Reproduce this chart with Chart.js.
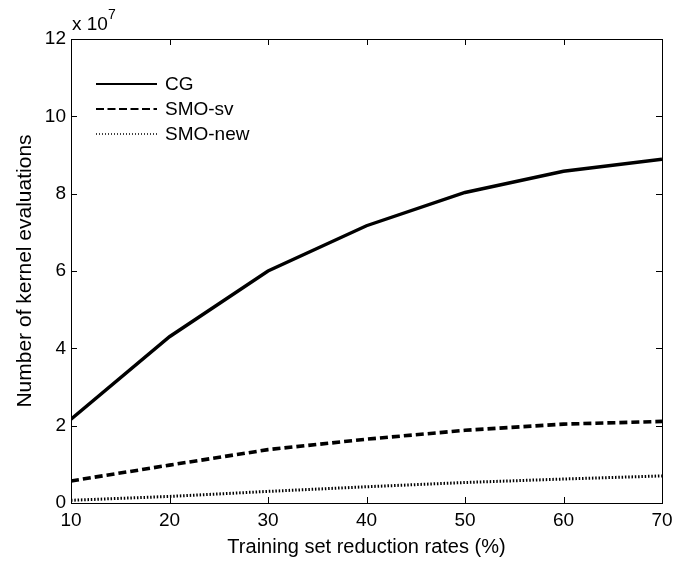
<!DOCTYPE html>
<html>
<head>
<meta charset="utf-8">
<script src="https://cdn.jsdelivr.net/npm/chart.js@4/dist/chart.umd.min.js"></script>
<style>
  html, body { margin: 0; padding: 0; background: #fff; }
  #wrap { width: 695px; height: 565px; }
</style>
</head>
<body>
<div id="wrap"><canvas id="myChart" width="695" height="565"></canvas></div>
<script>
// reduction rates (%) and kernel evaluations in units of 1e7
var rates = [10, 20, 30, 40, 50, 60, 70];
var cg = [2.17, 4.3, 6.0, 7.17, 8.03, 8.58, 8.89];
var smoSv = [0.57, 0.98, 1.38, 1.65, 1.88, 2.04, 2.11];
var smoNew = [0.07, 0.17, 0.3, 0.42, 0.53, 0.62, 0.7];
var yTicks = [0, 2, 4, 6, 8, 10, 12];

var FONT = '"Liberation Sans", Arial, Helvetica, sans-serif';

function pts(vals) {
    return rates.map(function (r, i) { return { x: r, y: vals[i] }; });
}

var legendItems = [
    { label: 'CG', width: 2.2, dash: [], y: 84 },
    { label: 'SMO-sv', width: 2.2, dash: [8, 3.5], y: 109 },
    { label: 'SMO-new', width: 1.4, dash: [1, 2], y: 134 }
];

var boxPlugin = {
    id: 'matlabBox',
    afterDraw: function (chart) {
        var ctx = chart.ctx, a = chart.chartArea;
        var xs = chart.scales.x, ys = chart.scales.y;
        ctx.save();
        ctx.strokeStyle = '#000';
        ctx.lineWidth = 1;
        ctx.strokeRect(a.left + 0.5, a.top + 0.5, a.right - a.left, a.bottom - a.top);
        var t = 6;
        ctx.beginPath();
        rates.forEach(function (r) {
            var px = Math.round(xs.getPixelForValue(r)) + 0.5;
            ctx.moveTo(px, a.bottom); ctx.lineTo(px, a.bottom - t);
            ctx.moveTo(px, a.top); ctx.lineTo(px, a.top + t);
        });
        yTicks.forEach(function (v) {
            var py = Math.round(ys.getPixelForValue(v)) + 0.5;
            ctx.moveTo(a.left, py); ctx.lineTo(a.left + t, py);
            ctx.moveTo(a.right, py); ctx.lineTo(a.right - t, py);
        });
        ctx.stroke();

        // exponent label
        ctx.fillStyle = '#000';
        ctx.textBaseline = 'alphabetic';
        ctx.font = '19px ' + FONT;
        ctx.fillText('x 10', a.left + 1, a.top - 9);
        var w = ctx.measureText('x 10').width;
        ctx.font = '14px ' + FONT;
        ctx.fillText('7', a.left + 1 + w, a.top - 20);

        // legend
        ctx.font = '19px ' + FONT;
        ctx.textBaseline = 'middle';
        legendItems.forEach(function (it) {
            ctx.beginPath();
            ctx.setLineDash(it.dash);
            ctx.lineWidth = it.width;
            ctx.moveTo(96, it.y); ctx.lineTo(157, it.y);
            ctx.stroke();
            ctx.setLineDash([]);
            ctx.fillText(it.label, 165, it.y + 1);
        });
        ctx.restore();
    }
};

new Chart(document.getElementById('myChart').getContext('2d'), {
    type: 'line',
    data: {
        datasets: [
            { label: 'CG', data: pts(cg), borderColor: '#000', borderWidth: 3.4, pointRadius: 0, tension: 0 },
            { label: 'SMO-sv', data: pts(smoSv), borderColor: '#000', borderWidth: 3.6, borderDash: [8, 4], pointRadius: 0, tension: 0 },
            { label: 'SMO-new', data: pts(smoNew), borderColor: '#000', borderWidth: 3, borderDash: [1.5, 1.8], pointRadius: 0, tension: 0 }
        ]
    },
    options: {
        responsive: false,
        animation: false,
        layout: { padding: { top: 39, right: 33, left: 0, bottom: 0 } },
        plugins: { legend: { display: false }, tooltip: { enabled: false } },
        scales: {
            x: {
                type: 'linear', min: 10, max: 70,
                grid: { display: false, drawTicks: false },
                border: { display: false },
                ticks: { stepSize: 10, color: '#000', font: { family: FONT, size: 19 }, padding: 6, maxRotation: 0 },
                title: { display: true, text: 'Training set reduction rates (%)', color: '#000', font: { family: FONT, size: 20 }, padding: { top: 4, bottom: 6 } },
                afterFit: function (s) { s.height = 62; }
            },
            y: {
                min: 0, max: 12,
                grid: { display: false, drawTicks: false },
                border: { display: false },
                afterBuildTicks: function (s) { s.ticks = yTicks.map(function (v) { return { value: v }; }); },
                ticks: { color: '#000', font: { family: FONT, size: 19 }, padding: 5 },
                title: { display: true, text: 'Number of kernel evaluations', color: '#000', font: { family: FONT, size: 21 }, padding: { top: 13, bottom: 0 } },
                afterFit: function (s) { s.width = 71; }
            }
        }
    },
    plugins: [boxPlugin]
});
</script>
</body>
</html>
